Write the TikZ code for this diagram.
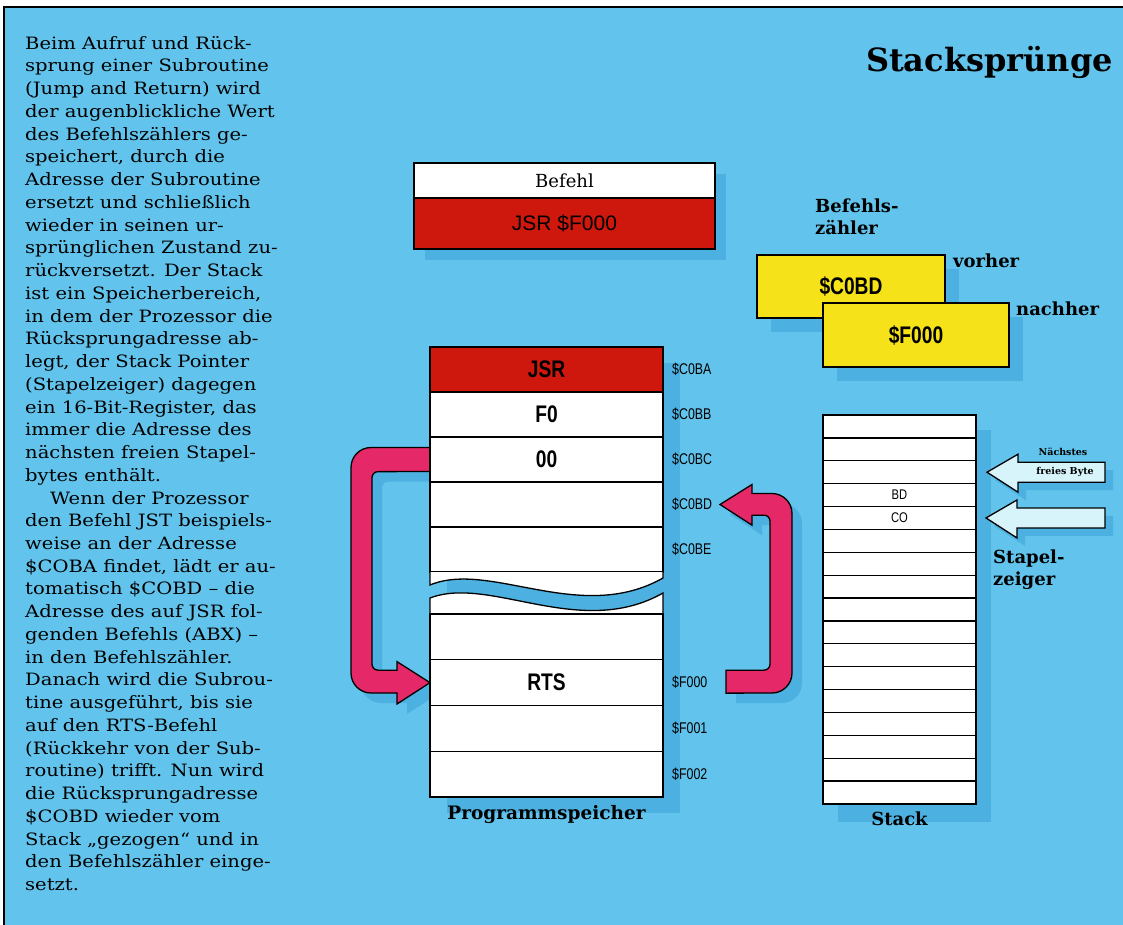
\documentclass[tikz,border=0pt]{standalone}
\usepackage{fontspec}
\setmainfont{DejaVu Serif}
\newfontfamily\bodyfont[FakeStretch=1.15]{DejaVu Serif}
\newfontfamily\condfont[FakeStretch=0.8]{Liberation Sans}
\newfontfamily\plainsans{Liberation Sans}
\usetikzlibrary{positioning,calc,shadows}
\pgfdeclarelayer{frame}
\pgfdeclarelayer{behind}
\pgfsetlayers{frame,behind,main}
\definecolor{skyblue}{RGB}{98,196,236}
\definecolor{shadeblue}{RGB}{76,176,224}
\definecolor{memred}{RGB}{206,24,14}
\definecolor{pcyellow}{RGB}{246,226,24}
\definecolor{jumppink}{RGB}{228,40,104}
\definecolor{palecyan}{RGB}{214,244,250}
\begin{document}
\begin{tikzpicture}[x=1pt,y=-1pt,
    outline/.style={draw=black,line width=1.3pt},
    shadowed/.style={drop shadow={shadow xshift=#1,shadow yshift=-#1,fill=shadeblue,opacity=1}},
    shadowed/.default=13pt,
    cell/.style={outline,fill=white,minimum width=233pt,inner sep=0pt,outer sep=0pt},
    stackcell/.style={outline,fill=white,minimum width=153pt,minimum height=22.88pt,inner sep=0pt,outer sep=0pt},
    bytecode/.style={font=\condfont\bfseries\fontsize{24}{26}\selectfont},
    addr/.style={font=\condfont\fontsize{15.5}{17}\selectfont,inner sep=0pt},
    caption/.style={font=\bfseries\fontsize{18}{22}\selectfont,inner sep=0pt,align=left},
    jumparrow/.style={outline,fill=jumppink,line join=miter,shadowed=10pt},
    pointer/.style={outline,fill=palecyan,line join=miter,shadowed=8pt}]
\useasboundingbox (0,0) rectangle (1123,925);
\begin{pgfonlayer}{frame}
\fill[white] (0,0) rectangle (1123,925);
\draw[line width=1.5pt,fill=skyblue] (4,7) rectangle (1140,940);
\end{pgfonlayer}

\node[anchor=north west,align=left,inner sep=0pt,font=\bodyfont\fontsize{17}{22.74}\selectfont] (info) at (25,36) {Beim Aufruf und Rück-\\
sprung einer Subroutine\\
(Jump and Return) wird\\
der augenblickliche Wert\\
des Befehlszählers ge-\\
speichert, durch die\\
Adresse der Subroutine\\
ersetzt und schließlich\\
wieder in seinen ur-\\
sprünglichen Zustand zu-\\
rückversetzt. Der Stack\\
ist ein Speicherbereich,\\
in dem der Prozessor die\\
Rücksprungadresse ab-\\
legt, der Stack Pointer\\
(Stapelzeiger) dagegen\\
ein 16-Bit-Register, das\\
immer die Adresse des\\
nächsten freien Stapel-\\
bytes enthält.\\
\hspace*{25pt}Wenn der Prozessor\\
den Befehl JST beispiels-\\
weise an der Adresse\\
\$COBA findet, lädt er au-\\
tomatisch \$COBD – die\\
Adresse des auf JSR fol-\\
genden Befehls (ABX) –\\
in den Befehlszähler.\\
Danach wird die Subrou-\\
tine ausgeführt, bis sie\\
auf den RTS-Befehl\\
(Rückkehr von der Sub-\\
routine) trifft. Nun wird\\
die Rücksprungadresse\\
\$COBD wieder vom\\
Stack „gezogen“ und in\\
den Befehlszähler einge-\\
setzt.};

\node[anchor=base east,inner sep=0pt,font=\bfseries\fontsize{32}{38}\selectfont] (title) at (1113,72) {Stacksprünge};

\node[outline,fill=white,shadowed=11pt,minimum width=301pt,minimum height=35pt,inner sep=0pt,outer sep=0pt,font=\fontsize{18}{20}\selectfont] (befehl) at (564.5,180.5) {Befehl};
\node[outline,fill=memred,shadowed=11pt,minimum width=301pt,minimum height=51pt,inner sep=0pt,outer sep=0pt,below=0pt of befehl,font=\plainsans\fontsize{21}{24}\selectfont] (opcode) {JSR \$F000};

\node[caption,anchor=base west] (pclabel) at (815,235) {Befehls-\\zähler};
\node[outline,fill=pcyellow,shadowed=14pt,minimum width=188pt,minimum height=63pt,bytecode] (pcold) at (851,286.5) {\$C0BD};
\node[outline,fill=pcyellow,shadowed=14pt,minimum width=186pt,minimum height=64pt,bytecode] (pcnew) at (916,335) {\$F000};
\node[caption,anchor=base west] (before) at (953,267) {vorher};
\node[caption,anchor=base west] (after) at (1016,315) {nachher};

\node[cell,minimum height=45pt,fill=memred,bytecode] (jsr) at (546.5,369.5) {JSR};
\node[cell,minimum height=45pt,bytecode,below=0pt of jsr] (fzero) {F0};
\node[cell,minimum height=45pt,bytecode,below=0pt of fzero] (zzero) {00};
\node[cell,minimum height=45pt,below=0pt of zzero] (free1) {};
\node[cell,minimum height=45pt,below=0pt of free1] (free2) {};
\draw[outline,fill=white] (free2.south west) -- (430,585) .. controls (490,560) and (580,625) .. (663,578) -- (free2.south east);
\draw[outline,fill=white] (430,614) -- (430,598) .. controls (490,575) and (580,640) .. (663,593) -- (663,614);
\node[cell,minimum height=45.75pt] (low1) at (546.5,636.9) {};
\node[cell,minimum height=45.75pt,bytecode,below=0pt of low1] (rts) {RTS};
\node[cell,minimum height=45.75pt,below=0pt of rts] (low2) {};
\node[cell,minimum height=45.75pt,below=0pt of low2] (low3) {};

\node[addr,right=9pt of jsr] (aC0BA) {\$C0BA};
\node[addr,right=9pt of fzero] (aC0BB) {\$C0BB};
\node[addr,right=9pt of zzero] (aC0BC) {\$C0BC};
\node[addr,right=9pt of free1] (aC0BD) {\$C0BD};
\node[addr,right=9pt of free2] (aC0BE) {\$C0BE};
\node[addr,right=9pt of rts] (aF000) {\$F000};
\node[addr,right=9pt of low2] (aF001) {\$F001};
\node[addr,right=9pt of low3] (aF002) {\$F002};
\node[caption,below=8pt of low3,font=\bfseries\fontsize{18.5}{22}\selectfont] (progmem) {Programmspeicher};

\foreach \i in {0,...,16}
  \node[stackcell] (s\i) at (899.5,426.44+22.88*\i) {};
\node[addr,font=\condfont\fontsize{14}{16}\selectfont] at (s3) {BD};
\node[addr,font=\condfont\fontsize{14}{16}\selectfont] at (s4) {CO};
\node[caption,below=8pt of s16] (stacklabel) {Stack};

\begin{pgfonlayer}{behind}
\fill[shadeblue] ($(jsr.north west)+(17,16)$) rectangle ($(low3.south east)+(17,16)$);
\fill[shadeblue] ($(s0.north west)+(15,15)$) rectangle ($(s16.south east)+(15,18)$);
\coordinate (jumpfrom) at (zzero.west);
\coordinate (jumpto) at (rts.west);
\draw[jumparrow] ($(jumpfrom)+(0,-12)$) -- ++(-59,0) arc[start angle=270,end angle=180,radius=20] -- ++(0,205.5) arc[start angle=180,end angle=90,radius=20] -- ++(26,0) -- ++(0,11) -- (jumpto) -- ++(-33,-21) -- ++(0,8.5) -- ++(-19,0) arc[start angle=90,end angle=180,radius=6] -- ++(0,-186.5) arc[start angle=180,end angle=270,radius=6] -- ($(jumpfrom)+(0,12)$) -- cycle;
\coordinate (backfrom) at ($(rts.east)+(63,0)$);
\coordinate (backto) at ($(free1.east)+(57,0)$);
\draw[jumparrow] ($(backfrom)+(0,-12.5)$) -- ++(38,0) arc[start angle=90,end angle=0,radius=6] -- ++(0,-143) arc[start angle=0,end angle=-90,radius=6] -- ++(-12,0) -- ++(0,10) -- (backto) -- ++(32,-20) -- ++(0,9) -- ++(20,0) arc[start angle=-90,end angle=0,radius=20] -- ++(0,159.5) arc[start angle=0,end angle=90,radius=20] -- ($(backfrom)+(0,10.5)$) -- cycle;
\end{pgfonlayer}

\draw[pointer] ($(s2.east)+(11,0)$) -- ++(31,-18) -- ++(0,8) -- ++(87,0) -- ++(0,20) -- ++(-87,0) -- ++(0,10) -- cycle;
\draw[pointer] ($(s4.east)+(10,0)$) -- ++(31,-18) -- ++(0,8) -- ++(88,0) -- ++(0,20) -- ++(-88,0) -- ++(0,10) -- cycle;
\node[font=\bfseries\fontsize{9.5}{11}\selectfont,inner sep=0pt] (nextlabel) at (1063,452) {Nächstes};
\node[font=\bfseries\fontsize{9.5}{11}\selectfont,inner sep=0pt] (freelabel) at (1065,472) {freies Byte};
\node[caption,anchor=base west] (splabel) at (993,585) {Stapel-\\zeiger};
\end{tikzpicture}
\end{document}
